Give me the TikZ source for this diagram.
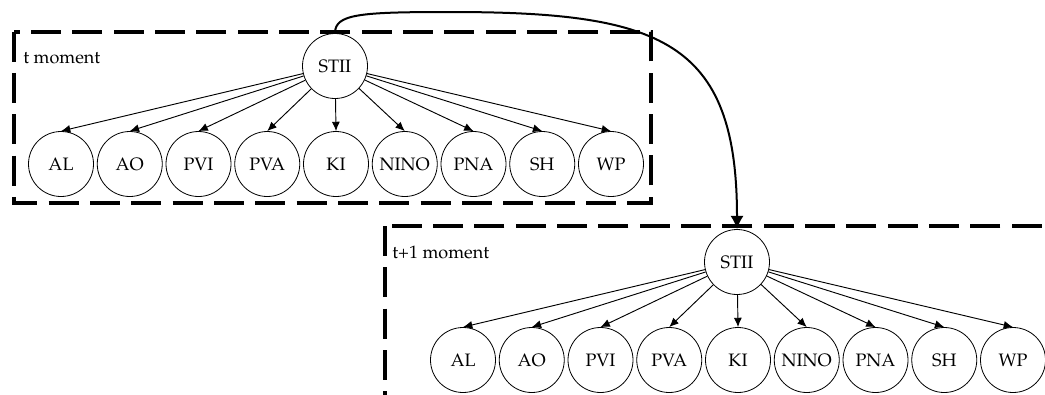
\documentclass[tikz,border=0pt]{standalone}
\usepackage[T1]{fontenc}
\usepackage{mathpazo}
\usepackage{tikz}
\usetikzlibrary{arrows.meta}

\begin{document}
\begin{tikzpicture}[x=0.75pt,y=-0.75pt,font=\fontsize{13.5}{16}\selectfont,
  var/.style={circle,draw,line width=0.6pt,minimum size=48.75pt,inner sep=0pt},
  edge/.style={-{Latex[length=7pt,width=6pt]},line width=0.7pt},
  frame/.style={line width=3pt,dash pattern=on 22.5pt off 8.5pt},
  tag/.style={anchor=base west,inner sep=0pt}]
\useasboundingbox (0,0) rectangle (1045,394);
\draw[frame] (13.5,31.5) rectangle (651,203);
\draw[frame] (385,226) rectangle (1120,460);
\node[tag] (lbla) at (23,63) {t moment};
\node[tag] (lblb) at (392,258) {t+1 moment};
\foreach \dx/\dy/\m in {0/0/a,402/196/b}{
  \node[var] (stii\m) at ({335+\dx},{66+\dy}) {STII};
  \foreach \lab [count=\i] in {AL,AO,PVI,PVA,KI,NINO,PNA,SH,WP}{
    \node[var] (\lab\m) at ({61+68.75*(\i-1)+\dx},{164+\dy}) {\lab};
    \draw[edge] (stii\m) -- (\lab\m.north);}
}
\draw[line width=1.5pt,-{Latex[length=10pt,width=10pt]}] (stiia.north)
  .. controls (335,14) and (360,12) .. (450,12)
  .. controls (660,12) and (737,40) .. (stiib.north);
\end{tikzpicture}
\end{document}
